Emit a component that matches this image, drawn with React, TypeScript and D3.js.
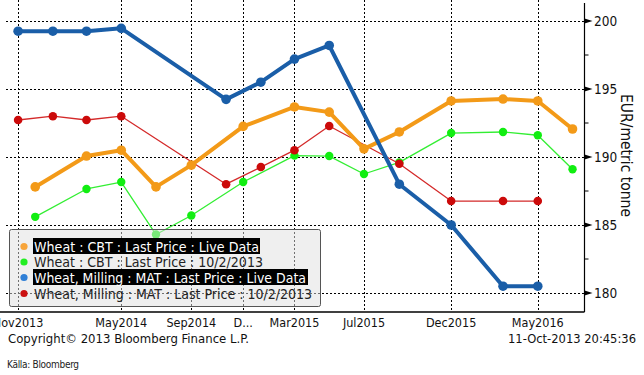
import React from "react";
import * as d3 from "d3";

const cbtDates = ["2013-12-01","2014-03-01","2014-05-01","2014-07-01","2014-09-01","2014-12-01","2015-03-01","2015-05-01","2015-07-01","2015-09-01","2015-12-01","2016-03-01","2016-05-01","2016-07-01"];
const cbtLive = [187.8,190.07,190.5,187.8,189.4,192.25,193.68,193.3,190.6,191.84,194.12,194.26,194.12,192.06];
const cbtPrev = [185.6,187.65,188.16,184.3,185.7,188.16,190.1,190.07,188.75,189.6,191.76,191.84,191.6,189.1];
const matDates = ["2013-11-01","2014-01-01","2014-03-01","2014-05-01","2014-11-01","2015-01-01","2015-03-01","2015-05-01","2015-09-01","2015-12-01","2016-03-01","2016-05-01"];
const matLive = [199.25,199.25,199.25,199.46,194.24,195.5,197.2,198.2,188.0,185.0,180.5,180.5];
const matPrev = [192.72,193.0,192.72,193.0,188.0,189.26,190.5,192.28,189.5,186.76,186.76,186.76];

const xTickDates = ["2013-11-01","2014-05-01","2014-09-01","2014-12-01","2015-03-01","2015-07-01","2015-12-01","2016-05-01"];
const xTickLabels = ["Nov2013","May2014","Sep2014","D...","Mar2015","Jul2015","Dec2015","May2016"];
const yMajor = [180,185,190,195,200];
const yMinor = [182.5,187.5,192.5,197.5];

const legendLabels = [
  "Wheat : CBT : Last Price : Live Data",
  "Wheat : CBT : Last Price : 10/2/2013",
  "Wheat, Milling : MAT : Last Price : Live Data",
  "Wheat, Milling : MAT : Last Price : 10/2/2013",
];
const legendColors = ["#f7a43a", "#22ee22", "#2f7fd6", "#cc1111"];
const legendHighlight = [true, false, true, false];

const parse = d3.timeParse("%Y-%m-%d");
const FONT = "'DejaVu Sans Condensed', 'DejaVu Sans', sans-serif";

export default function App() {
  const W = 644, H = 375;
  const left = 5, right = 584.5, top = 0, bottom = 312;
  const x = d3.scaleTime()
    .domain([parse("2013-10-09")!, parse("2016-07-22")!])
    .range([left, right]);
  const y = d3.scaleLinear().domain([180, 200]).range([293, 21]);

  const mk = (dates: string[], vals: number[]) =>
    dates.map((d, i) => ({ x: x(parse(d)!), y: y(vals[i]) }));

  const line = d3.line<{ x: number; y: number }>().x(d => d.x).y(d => d.y);

  const series = [
    { pts: mk(cbtDates, cbtPrev), stroke: "#33ee33", width: 1.3, fill: "#11ee11", r: 4.2 },
    { pts: mk(matDates, matPrev), stroke: "#d42a2a", width: 1.3, fill: "#cc0a0a", r: 4.3 },
    { pts: mk(cbtDates, cbtLive), stroke: "#f39a18", width: 4, fill: "#f39a18", r: 4.8 },
    { pts: mk(matDates, matLive), stroke: "#1a5ea8", width: 4, fill: "#1a5ea8", r: 4.8 },
  ];

  const legX = 9.5, legY = 229.5, legW = 311, legH = 77;
  const rowY = [246.5, 262, 277.5, 293.5];
  const textW = [225, 229, 272, 278];
  const hlW = [227, 0, 275, 0];

  return (
    <svg width={W} height={H} style={{ position: "absolute", left: 0, top: 0, background: "#fff" }}
      fontFamily={FONT}>
      {/* grid */}
      {yMajor.map(v => (
        <line key={"hg" + v} x1={left + 1} x2={right} y1={Math.round(y(v)) + 0.5} y2={Math.round(y(v)) + 0.5}
          stroke="#000" strokeWidth={1} strokeDasharray="2,2" />
      ))}
      {xTickDates.map(d => {
        const xx = Math.round(x(parse(d)!)) + 0.5;
        return <line key={"vg" + d} x1={xx} x2={xx} y1={top} y2={bottom} stroke="#000" strokeWidth={1} strokeDasharray="2,2" />;
      })}

      {/* series */}
      {series.map((s, i) => (
        <g key={"s" + i}>
          <path d={line(s.pts) || ""} fill="none" stroke={s.stroke} strokeWidth={s.width} strokeLinejoin="round" />
          {s.pts.map((p, j) => <circle key={j} cx={p.x} cy={p.y} r={s.r} fill={s.fill} />)}
        </g>
      ))}

      {/* legend */}
      <rect x={legX} y={legY} width={legW} height={legH} rx={2} fill="#e0e0e0" fillOpacity={0.5}
        stroke="#555" strokeWidth={1} />
      {legendLabels.map((t, i) => (
        <g key={"l" + i}>
          {legendHighlight[i] && <rect x={33} y={rowY[i] - 8.5} width={hlW[i]} height={16} fill="#000" />}
          <circle cx={24} cy={rowY[i]} r={3.6} fill={legendColors[i]} />
          <text x={34} y={rowY[i] + 5} fontSize={13.5} textLength={textW[i]} lengthAdjust="spacingAndGlyphs"
            fill={legendHighlight[i] ? "#fff" : "#222"}>{t}</text>
        </g>
      ))}

      {/* axes */}
      <line x1={0} x2={right} y1={bottom} y2={bottom} stroke="#000" strokeWidth={1.5} />
      <line x1={right} x2={right} y1={3} y2={bottom} stroke="#000" strokeWidth={1.2} />
      {yMajor.map(v => {
        const yy = y(v);
        return (
          <g key={"yt" + v}>
            <path d={`M${right},${yy - 2.5}L${right + 8},${yy}L${right},${yy + 2.5}Z`} fill="#000" />
            <text x={594} y={yy + 5} fontSize={13.5} fill="#111">{v}</text>
          </g>
        );
      })}
      {yMinor.map(v => (
        <line key={"ym" + v} x1={right} x2={right + 4} y1={y(v)} y2={y(v)} stroke="#000" strokeWidth={1} />
      ))}
      <text transform="translate(621,155.5) rotate(90)" textAnchor="middle" fontSize={15.5} fill="#111">EUR/metric tonne</text>

      {xTickDates.map((d, i) => (
        <text key={"xt" + d} x={x(parse(d)!)} y={327} textAnchor="middle" fontSize={12.5} fill="#111">{xTickLabels[i]}</text>
      ))}

      <text x={8} y={343} fontSize={13} textLength={241} lengthAdjust="spacingAndGlyphs" fill="#111">Copyright© 2013 Bloomberg Finance L.P.</text>
      <text x={508} y={343} fontSize={13} textLength={128} lengthAdjust="spacingAndGlyphs" fill="#111">11-Oct-2013 20:45:36</text>
      <text x={7} y={368} fontSize={10} fill="#222" fontFamily="'Liberation Sans Narrow', 'DejaVu Sans Condensed', sans-serif"
        letterSpacing={-0.3}>Källa: Bloomberg</text>
    </svg>
  );
}
